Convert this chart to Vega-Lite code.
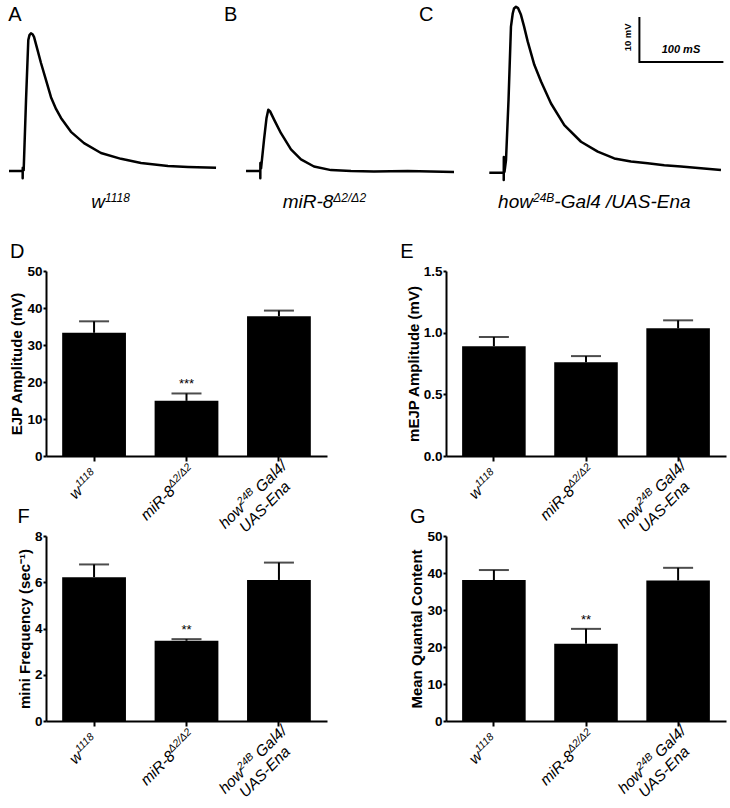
{
"$schema": "https://vega.github.io/schema/vega-lite/v6.json",
"padding": {"left": 7, "top": 0, "right": 0, "bottom": 0},
"config": {
  "view": {"stroke": null},
  "font": "Liberation Sans",
  "axis": {"domainColor": "#000", "domainWidth": 2, "tickColor": "#000", "tickWidth": 2, "tickSize": 3, "labelColor": "#000", "labelFont": "Liberation Sans", "labelFontWeight": "bold", "labelFontSize": 13.5, "labelPadding": 1, "labelOverlap": false, "titleColor": "#000", "titleFont": "Liberation Sans", "titleFontWeight": "bold", "titleFontSize": 15, "titlePadding": 2, "grid": false},
  "title": {"anchor": "start", "frame": "bounds", "font": "Liberation Sans", "fontSize": 20, "fontWeight": "normal", "color": "#000", "offset": 2}
},
"datasets": {
  "tr": [
    {"s":"A","i":0,"t":9.5,"v":0},{"s":"A","i":1,"t":25.8,"v":0},{"s":"A","i":2,"t":25.8,"v":-1.6},{"s":"A","i":3,"t":25.9,"v":0.7},{"s":"A","i":4,"t":27,"v":0.2},{"s":"A","i":5,"t":29.8,"v":15.8},{"s":"A","i":6,"t":32.5,"v":29.1},{"s":"A","i":7,"t":33.9,"v":30.2},{"s":"A","i":8,"t":35.7,"v":30.6},{"s":"A","i":9,"t":37.5,"v":30.4},{"s":"A","i":10,"t":39.3,"v":29.8},{"s":"A","i":11,"t":42.9,"v":27.3},{"s":"A","i":12,"t":47.6,"v":24},{"s":"A","i":13,"t":53.6,"v":20.2},{"s":"A","i":14,"t":59.5,"v":16.4},{"s":"A","i":15,"t":65.5,"v":13.8},{"s":"A","i":16,"t":71.4,"v":11.8},{"s":"A","i":17,"t":83.3,"v":8.7},{"s":"A","i":18,"t":98.8,"v":6.2},{"s":"A","i":19,"t":119,"v":4},{"s":"A","i":20,"t":142.9,"v":2.7},{"s":"A","i":21,"t":166.7,"v":1.8},{"s":"A","i":22,"t":198.8,"v":1.1},{"s":"A","i":23,"t":222.6,"v":0.9},{"s":"A","i":24,"t":256,"v":0.7},
    {"s":"B","i":0,"t":291.7,"v":0},{"s":"B","i":1,"t":308.7,"v":0},{"s":"B","i":2,"t":308.7,"v":-1.6},{"s":"B","i":3,"t":308.8,"v":1.8},{"s":"B","i":4,"t":309.6,"v":0.6},{"s":"B","i":5,"t":313.1,"v":6.9},{"s":"B","i":6,"t":316.1,"v":11.8},{"s":"B","i":7,"t":318.2,"v":13.6},{"s":"B","i":8,"t":320.2,"v":13.3},{"s":"B","i":9,"t":325.4,"v":11.3},{"s":"B","i":10,"t":333.3,"v":8.4},{"s":"B","i":11,"t":345.2,"v":4.8},{"s":"B","i":12,"t":357.1,"v":2.6},{"s":"B","i":13,"t":372.6,"v":1.0},{"s":"B","i":14,"t":392.9,"v":0.2},{"s":"B","i":15,"t":416.7,"v":0},{"s":"B","i":16,"t":444,"v":-0.1},{"s":"B","i":17,"t":484.2,"v":0},{"s":"B","i":18,"t":539.3,"v":-0.2},
    {"s":"C","i":0,"t":581.3,"v":-0.4},{"s":"C","i":1,"t":598.5,"v":-0.4},{"s":"C","i":2,"t":598.5,"v":-2},{"s":"C","i":3,"t":598.6,"v":3.1},{"s":"C","i":4,"t":599.4,"v":-0.2},{"s":"C","i":5,"t":601.2,"v":2.4},{"s":"C","i":6,"t":604.2,"v":15.8},{"s":"C","i":7,"t":607.1,"v":32.1},{"s":"C","i":8,"t":609.2,"v":35},{"s":"C","i":9,"t":610.7,"v":36.1},{"s":"C","i":10,"t":613.1,"v":36.5},{"s":"C","i":11,"t":615.5,"v":36.2},{"s":"C","i":12,"t":619,"v":34.7},{"s":"C","i":13,"t":622.6,"v":32.2},{"s":"C","i":14,"t":627,"v":28.8},{"s":"C","i":15,"t":634.9,"v":23.6},{"s":"C","i":16,"t":642.9,"v":19.9},{"s":"C","i":17,"t":654.8,"v":15},{"s":"C","i":18,"t":670.6,"v":10.2},{"s":"C","i":19,"t":690.5,"v":6.5},{"s":"C","i":20,"t":710.4,"v":4.3},{"s":"C","i":21,"t":730.1,"v":2.8},{"s":"C","i":22,"t":750,"v":2.1},{"s":"C","i":23,"t":769.9,"v":1.7},{"s":"C","i":24,"t":789.6,"v":1.3},{"s":"C","i":25,"t":809.5,"v":1.0},{"s":"C","i":26,"t":833.3,"v":0.6},{"s":"C","i":27,"t":857.1,"v":0.2},
    {"s":"S","i":0,"t":760,"v":34.2},{"s":"S","i":1,"t":760,"v":24.2},{"s":"S","i":2,"t":860,"v":24.2}
  ],
  "tl": [
    {"k":"L","t":8.5,"v":33.4,"txt":"A"},{"k":"L","t":265.5,"v":33.4,"txt":"B"},{"k":"L","t":497.6,"v":33.4,"txt":"C"},
    {"k":"b","t":123.8,"v":-8.2,"txt":"w"},{"k":"b","t":395.6,"v":-8.2,"txt":"miR-8"},{"k":"b","t":633.3,"v":-8.2,"txt":"how"},
    {"k":"s","t":123.8,"v":-8.2,"txt":"1118"},{"k":"s","t":395.6,"v":-8.2,"txt":"Δ2/Δ2"},{"k":"s","t":633.3,"v":-8.2,"txt":"24B"},
    {"k":"r","t":658.7,"v":-8.2,"txt":"-Gal4 /UAS-Ena"},
    {"k":"mv","t":746,"v":29.7,"txt":"10 mV"},{"k":"ms","t":809.5,"v":26.9,"txt":"100 mS"}
  ],
  "xl": [
    {"g":"w","part":"b","txt":"w"},{"g":"m","part":"b","txt":"miR-8"},
    {"g":"w","part":"s","txt":"1118"},{"g":"m","part":"s","txt":"Δ2/Δ2"},
    {"g":"h","part":"h1","txt":"how"},{"g":"h","part":"h2","txt":"24B"},{"g":"h","part":"h3","txt":"Gal4/"},{"g":"h","part":"h4","txt":"UAS-Ena"}
  ],
  "bD": [{"g":"w","v":33.3,"hi":36.4,"sig":""},{"g":"m","v":14.9,"hi":16.9,"sig":"***"},{"g":"h","v":37.8,"hi":39.3,"sig":""}],
  "bE": [{"g":"w","v":0.89,"hi":0.965,"sig":""},{"g":"m","v":0.76,"hi":0.81,"sig":""},{"g":"h","v":1.035,"hi":1.1,"sig":""}],
  "bF": [{"g":"w","v":6.22,"hi":6.77,"sig":""},{"g":"m","v":3.47,"hi":3.54,"sig":"**"},{"g":"h","v":6.1,"hi":6.85,"sig":""}],
  "bG": [{"g":"w","v":38.1,"hi":40.8,"sig":""},{"g":"m","v":20.9,"hi":24.9,"sig":"**"},{"g":"h","v":38.0,"hi":41.4,"sig":""}]
},
"spacing": 30,
"vconcat": [
  {
    "width": 685, "height": 180,
    "encoding": {
      "x": {"field": "t", "type": "quantitative", "scale": {"domain": [53.57, 869.05], "nice": false, "zero": false}, "axis": null},
      "y": {"field": "v", "type": "quantitative", "scale": {"domain": [-2, 38], "nice": false, "zero": false}, "axis": null}
    },
    "layer": [
      {"data": {"name": "tr"}, "transform": [{"filter": "datum.s != 'S'"}], "mark": {"type": "line", "stroke": "#000", "strokeWidth": 2.5, "strokeJoin": "round", "clip": false}, "encoding": {"detail": {"field": "s"}, "order": {"field": "i"}}},
      {"data": {"name": "tr"}, "transform": [{"filter": "datum.s == 'S'"}], "mark": {"type": "line", "stroke": "#000", "strokeWidth": 2, "strokeJoin": "miter", "clip": false}, "encoding": {"order": {"field": "i"}}},
      {"data": {"name": "tl"}, "transform": [{"filter": "datum.k == 'L'"}], "mark": {"type": "text", "align": "left", "baseline": "alphabetic", "fontSize": 20, "color": "#000"}, "encoding": {"text": {"field": "txt"}}},
      {"data": {"name": "tl"}, "transform": [{"filter": "datum.k == 'b'"}], "mark": {"type": "text", "align": "right", "baseline": "alphabetic", "fontSize": 19, "fontStyle": "italic", "color": "#000"}, "encoding": {"text": {"field": "txt"}}},
      {"data": {"name": "tl"}, "transform": [{"filter": "datum.k == 's'"}], "mark": {"type": "text", "align": "left", "baseline": "alphabetic", "fontSize": 12, "fontStyle": "italic", "dy": -6, "color": "#000"}, "encoding": {"text": {"field": "txt"}}},
      {"data": {"name": "tl"}, "transform": [{"filter": "datum.k == 'r'"}], "mark": {"type": "text", "align": "left", "baseline": "alphabetic", "fontSize": 19, "fontStyle": "italic", "color": "#000"}, "encoding": {"text": {"field": "txt"}}},
      {"data": {"name": "tl"}, "transform": [{"filter": "datum.k == 'mv'"}], "mark": {"type": "text", "align": "center", "baseline": "middle", "angle": 270, "fontSize": 9.5, "fontWeight": "bold", "color": "#000"}, "encoding": {"text": {"field": "txt"}}},
      {"data": {"name": "tl"}, "transform": [{"filter": "datum.k == 'ms'"}], "mark": {"type": "text", "align": "center", "baseline": "middle", "fontSize": 11, "fontWeight": "bold", "fontStyle": "italic", "color": "#000"}, "encoding": {"text": {"field": "txt"}}}
    ]
  },
  {
    "columns": 2,
    "spacing": {"row": -30, "column": 73},
    "concat": [
      {
        "title": {"text": "D"},
        "width": 281, "height": 185,
        "data": {"name": "bD"},
        "encoding": {"x": {"field": "g", "type": "nominal", "scale": {"domain": ["w", "m", "h"], "paddingInner": 0.31, "paddingOuter": 0.175}, "axis": {"labels": false, "title": null, "tickSize": 5}}},
        "layer": [
          {"mark": {"type": "bar", "color": "#000"}, "encoding": {"y": {"field": "v", "type": "quantitative", "scale": {"domain": [0, 50], "nice": false}, "title": "EJP Amplitude (mV)", "axis": {"values": [0, 10, 20, 30, 40, 50], "tickCount": 6}}}},
          {"mark": {"type": "rule", "strokeWidth": 2, "color": "#000"}, "encoding": {"y": {"field": "v", "type": "quantitative", "title": "EJP Amplitude (mV)", "axis": {"values": [0, 10, 20, 30, 40, 50], "tickCount": 6}}, "y2": {"field": "hi"}}},
          {"mark": {"type": "tick", "color": "#000", "size": 30, "thickness": 2}, "encoding": {"y": {"field": "hi", "type": "quantitative", "title": "EJP Amplitude (mV)", "axis": {"values": [0, 10, 20, 30, 40, 50], "tickCount": 6}}}},
          {"mark": {"type": "text", "fontSize": 13, "baseline": "alphabetic", "dy": -5, "color": "#000"}, "encoding": {"y": {"field": "hi", "type": "quantitative", "title": "EJP Amplitude (mV)", "axis": {"values": [0, 10, 20, 30, 40, 50], "tickCount": 6}}, "text": {"field": "sig"}}},
          {"data": {"name": "xl"}, "transform": [{"filter": "datum.part == 'b'"}], "mark": {"type": "text", "angle": -45, "align": "right", "baseline": "alphabetic", "dx": -33, "dy": 18, "fontSize": 15.5, "fontStyle": "italic", "color": "#000"}, "encoding": {"y": {"datum": 0, "type": "quantitative"}, "text": {"field": "txt"}}},
          {"data": {"name": "xl"}, "transform": [{"filter": "datum.part == 's'"}], "mark": {"type": "text", "angle": -45, "align": "left", "baseline": "alphabetic", "dx": -33, "dy": 12, "fontSize": 10.5, "fontStyle": "italic", "color": "#000"}, "encoding": {"y": {"datum": 0, "type": "quantitative"}, "text": {"field": "txt"}}},
          {"data": {"name": "xl"}, "transform": [{"filter": "datum.part == 'h1'"}], "mark": {"type": "text", "angle": -45, "align": "left", "baseline": "alphabetic", "dx": -90, "dy": 14, "fontSize": 15.5, "fontStyle": "italic", "color": "#000"}, "encoding": {"y": {"datum": 0, "type": "quantitative"}, "text": {"field": "txt"}}},
          {"data": {"name": "xl"}, "transform": [{"filter": "datum.part == 'h2'"}], "mark": {"type": "text", "angle": -45, "align": "left", "baseline": "alphabetic", "dx": -61.6, "dy": 8, "fontSize": 10.5, "fontStyle": "italic", "color": "#000"}, "encoding": {"y": {"datum": 0, "type": "quantitative"}, "text": {"field": "txt"}}},
          {"data": {"name": "xl"}, "transform": [{"filter": "datum.part == 'h3'"}], "mark": {"type": "text", "angle": -45, "align": "left", "baseline": "alphabetic", "dx": -38.6, "dy": 14, "fontSize": 15.5, "fontStyle": "italic", "color": "#000"}, "encoding": {"y": {"datum": 0, "type": "quantitative"}, "text": {"field": "txt"}}},
          {"data": {"name": "xl"}, "transform": [{"filter": "datum.part == 'h4'"}], "mark": {"type": "text", "angle": -45, "align": "center", "baseline": "alphabetic", "dx": -46, "dy": 31, "fontSize": 15.5, "fontStyle": "italic", "color": "#000"}, "encoding": {"y": {"datum": 0, "type": "quantitative"}, "text": {"field": "txt"}}}
        ]
      },
      {
        "title": {"text": "E", "dx": -6},
        "width": 280, "height": 185,
        "data": {"name": "bE"},
        "encoding": {"x": {"field": "g", "type": "nominal", "scale": {"domain": ["w", "m", "h"], "paddingInner": 0.31, "paddingOuter": 0.175}, "axis": {"labels": false, "title": null, "tickSize": 5}}},
        "layer": [
          {"mark": {"type": "bar", "color": "#000"}, "encoding": {"y": {"field": "v", "type": "quantitative", "scale": {"domain": [0, 1.5], "nice": false}, "title": "mEJP Amplitude (mV)", "axis": {"values": [0, 0.5, 1, 1.5], "tickCount": 4, "format": ".1f"}}}},
          {"mark": {"type": "rule", "strokeWidth": 2, "color": "#000"}, "encoding": {"y": {"field": "v", "type": "quantitative", "title": "mEJP Amplitude (mV)", "axis": {"values": [0, 0.5, 1, 1.5], "tickCount": 4, "format": ".1f"}}, "y2": {"field": "hi"}}},
          {"mark": {"type": "tick", "color": "#000", "size": 30, "thickness": 2}, "encoding": {"y": {"field": "hi", "type": "quantitative", "title": "mEJP Amplitude (mV)", "axis": {"values": [0, 0.5, 1, 1.5], "tickCount": 4, "format": ".1f"}}}},
          {"data": {"name": "xl"}, "transform": [{"filter": "datum.part == 'b'"}], "mark": {"type": "text", "angle": -45, "align": "right", "baseline": "alphabetic", "dx": -33, "dy": 18, "fontSize": 15.5, "fontStyle": "italic", "color": "#000"}, "encoding": {"y": {"datum": 0, "type": "quantitative"}, "text": {"field": "txt"}}},
          {"data": {"name": "xl"}, "transform": [{"filter": "datum.part == 's'"}], "mark": {"type": "text", "angle": -45, "align": "left", "baseline": "alphabetic", "dx": -33, "dy": 12, "fontSize": 10.5, "fontStyle": "italic", "color": "#000"}, "encoding": {"y": {"datum": 0, "type": "quantitative"}, "text": {"field": "txt"}}},
          {"data": {"name": "xl"}, "transform": [{"filter": "datum.part == 'h1'"}], "mark": {"type": "text", "angle": -45, "align": "left", "baseline": "alphabetic", "dx": -90, "dy": 14, "fontSize": 15.5, "fontStyle": "italic", "color": "#000"}, "encoding": {"y": {"datum": 0, "type": "quantitative"}, "text": {"field": "txt"}}},
          {"data": {"name": "xl"}, "transform": [{"filter": "datum.part == 'h2'"}], "mark": {"type": "text", "angle": -45, "align": "left", "baseline": "alphabetic", "dx": -61.6, "dy": 8, "fontSize": 10.5, "fontStyle": "italic", "color": "#000"}, "encoding": {"y": {"datum": 0, "type": "quantitative"}, "text": {"field": "txt"}}},
          {"data": {"name": "xl"}, "transform": [{"filter": "datum.part == 'h3'"}], "mark": {"type": "text", "angle": -45, "align": "left", "baseline": "alphabetic", "dx": -38.6, "dy": 14, "fontSize": 15.5, "fontStyle": "italic", "color": "#000"}, "encoding": {"y": {"datum": 0, "type": "quantitative"}, "text": {"field": "txt"}}},
          {"data": {"name": "xl"}, "transform": [{"filter": "datum.part == 'h4'"}], "mark": {"type": "text", "angle": -45, "align": "center", "baseline": "alphabetic", "dx": -46, "dy": 31, "fontSize": 15.5, "fontStyle": "italic", "color": "#000"}, "encoding": {"y": {"datum": 0, "type": "quantitative"}, "text": {"field": "txt"}}}
        ]
      },
      {
        "title": {"text": "F"},
        "width": 281, "height": 185,
        "data": {"name": "bF"},
        "encoding": {"x": {"field": "g", "type": "nominal", "scale": {"domain": ["w", "m", "h"], "paddingInner": 0.31, "paddingOuter": 0.175}, "axis": {"labels": false, "title": null, "tickSize": 5}}},
        "layer": [
          {"mark": {"type": "bar", "color": "#000"}, "encoding": {"y": {"field": "v", "type": "quantitative", "scale": {"domain": [0, 8], "nice": false}, "title": "mini Frequency (sec⁻¹)", "axis": {"values": [0, 2, 4, 6, 8], "tickCount": 5}}}},
          {"mark": {"type": "rule", "strokeWidth": 2, "color": "#000"}, "encoding": {"y": {"field": "v", "type": "quantitative", "title": "mini Frequency (sec⁻¹)", "axis": {"values": [0, 2, 4, 6, 8], "tickCount": 5}}, "y2": {"field": "hi"}}},
          {"mark": {"type": "tick", "color": "#000", "size": 30, "thickness": 2}, "encoding": {"y": {"field": "hi", "type": "quantitative", "title": "mini Frequency (sec⁻¹)", "axis": {"values": [0, 2, 4, 6, 8], "tickCount": 5}}}},
          {"mark": {"type": "text", "fontSize": 13, "baseline": "alphabetic", "dy": -5, "color": "#000"}, "encoding": {"y": {"field": "hi", "type": "quantitative", "title": "mini Frequency (sec⁻¹)", "axis": {"values": [0, 2, 4, 6, 8], "tickCount": 5}}, "text": {"field": "sig"}}},
          {"data": {"name": "xl"}, "transform": [{"filter": "datum.part == 'b'"}], "mark": {"type": "text", "angle": -45, "align": "right", "baseline": "alphabetic", "dx": -33, "dy": 18, "fontSize": 15.5, "fontStyle": "italic", "color": "#000"}, "encoding": {"y": {"datum": 0, "type": "quantitative"}, "text": {"field": "txt"}}},
          {"data": {"name": "xl"}, "transform": [{"filter": "datum.part == 's'"}], "mark": {"type": "text", "angle": -45, "align": "left", "baseline": "alphabetic", "dx": -33, "dy": 12, "fontSize": 10.5, "fontStyle": "italic", "color": "#000"}, "encoding": {"y": {"datum": 0, "type": "quantitative"}, "text": {"field": "txt"}}},
          {"data": {"name": "xl"}, "transform": [{"filter": "datum.part == 'h1'"}], "mark": {"type": "text", "angle": -45, "align": "left", "baseline": "alphabetic", "dx": -90, "dy": 14, "fontSize": 15.5, "fontStyle": "italic", "color": "#000"}, "encoding": {"y": {"datum": 0, "type": "quantitative"}, "text": {"field": "txt"}}},
          {"data": {"name": "xl"}, "transform": [{"filter": "datum.part == 'h2'"}], "mark": {"type": "text", "angle": -45, "align": "left", "baseline": "alphabetic", "dx": -61.6, "dy": 8, "fontSize": 10.5, "fontStyle": "italic", "color": "#000"}, "encoding": {"y": {"datum": 0, "type": "quantitative"}, "text": {"field": "txt"}}},
          {"data": {"name": "xl"}, "transform": [{"filter": "datum.part == 'h3'"}], "mark": {"type": "text", "angle": -45, "align": "left", "baseline": "alphabetic", "dx": -38.6, "dy": 14, "fontSize": 15.5, "fontStyle": "italic", "color": "#000"}, "encoding": {"y": {"datum": 0, "type": "quantitative"}, "text": {"field": "txt"}}},
          {"data": {"name": "xl"}, "transform": [{"filter": "datum.part == 'h4'"}], "mark": {"type": "text", "angle": -45, "align": "center", "baseline": "alphabetic", "dx": -46, "dy": 31, "fontSize": 15.5, "fontStyle": "italic", "color": "#000"}, "encoding": {"y": {"datum": 0, "type": "quantitative"}, "text": {"field": "txt"}}}
        ]
      },
      {
        "title": {"text": "G"},
        "width": 280, "height": 185,
        "data": {"name": "bG"},
        "encoding": {"x": {"field": "g", "type": "nominal", "scale": {"domain": ["w", "m", "h"], "paddingInner": 0.31, "paddingOuter": 0.175}, "axis": {"labels": false, "title": null, "tickSize": 5}}},
        "layer": [
          {"mark": {"type": "bar", "color": "#000"}, "encoding": {"y": {"field": "v", "type": "quantitative", "scale": {"domain": [0, 50], "nice": false}, "title": "Mean Quantal Content", "axis": {"values": [0, 10, 20, 30, 40, 50], "tickCount": 6}}}},
          {"mark": {"type": "rule", "strokeWidth": 2, "color": "#000"}, "encoding": {"y": {"field": "v", "type": "quantitative", "title": "Mean Quantal Content", "axis": {"values": [0, 10, 20, 30, 40, 50], "tickCount": 6}}, "y2": {"field": "hi"}}},
          {"mark": {"type": "tick", "color": "#000", "size": 30, "thickness": 2}, "encoding": {"y": {"field": "hi", "type": "quantitative", "title": "Mean Quantal Content", "axis": {"values": [0, 10, 20, 30, 40, 50], "tickCount": 6}}}},
          {"mark": {"type": "text", "fontSize": 13, "baseline": "alphabetic", "dy": -5, "color": "#000"}, "encoding": {"y": {"field": "hi", "type": "quantitative", "title": "Mean Quantal Content", "axis": {"values": [0, 10, 20, 30, 40, 50], "tickCount": 6}}, "text": {"field": "sig"}}},
          {"data": {"name": "xl"}, "transform": [{"filter": "datum.part == 'b'"}], "mark": {"type": "text", "angle": -45, "align": "right", "baseline": "alphabetic", "dx": -33, "dy": 18, "fontSize": 15.5, "fontStyle": "italic", "color": "#000"}, "encoding": {"y": {"datum": 0, "type": "quantitative"}, "text": {"field": "txt"}}},
          {"data": {"name": "xl"}, "transform": [{"filter": "datum.part == 's'"}], "mark": {"type": "text", "angle": -45, "align": "left", "baseline": "alphabetic", "dx": -33, "dy": 12, "fontSize": 10.5, "fontStyle": "italic", "color": "#000"}, "encoding": {"y": {"datum": 0, "type": "quantitative"}, "text": {"field": "txt"}}},
          {"data": {"name": "xl"}, "transform": [{"filter": "datum.part == 'h1'"}], "mark": {"type": "text", "angle": -45, "align": "left", "baseline": "alphabetic", "dx": -90, "dy": 14, "fontSize": 15.5, "fontStyle": "italic", "color": "#000"}, "encoding": {"y": {"datum": 0, "type": "quantitative"}, "text": {"field": "txt"}}},
          {"data": {"name": "xl"}, "transform": [{"filter": "datum.part == 'h2'"}], "mark": {"type": "text", "angle": -45, "align": "left", "baseline": "alphabetic", "dx": -61.6, "dy": 8, "fontSize": 10.5, "fontStyle": "italic", "color": "#000"}, "encoding": {"y": {"datum": 0, "type": "quantitative"}, "text": {"field": "txt"}}},
          {"data": {"name": "xl"}, "transform": [{"filter": "datum.part == 'h3'"}], "mark": {"type": "text", "angle": -45, "align": "left", "baseline": "alphabetic", "dx": -38.6, "dy": 14, "fontSize": 15.5, "fontStyle": "italic", "color": "#000"}, "encoding": {"y": {"datum": 0, "type": "quantitative"}, "text": {"field": "txt"}}},
          {"data": {"name": "xl"}, "transform": [{"filter": "datum.part == 'h4'"}], "mark": {"type": "text", "angle": -45, "align": "center", "baseline": "alphabetic", "dx": -46, "dy": 31, "fontSize": 15.5, "fontStyle": "italic", "color": "#000"}, "encoding": {"y": {"datum": 0, "type": "quantitative"}, "text": {"field": "txt"}}}
        ]
      }
    ]
  }
]
}
